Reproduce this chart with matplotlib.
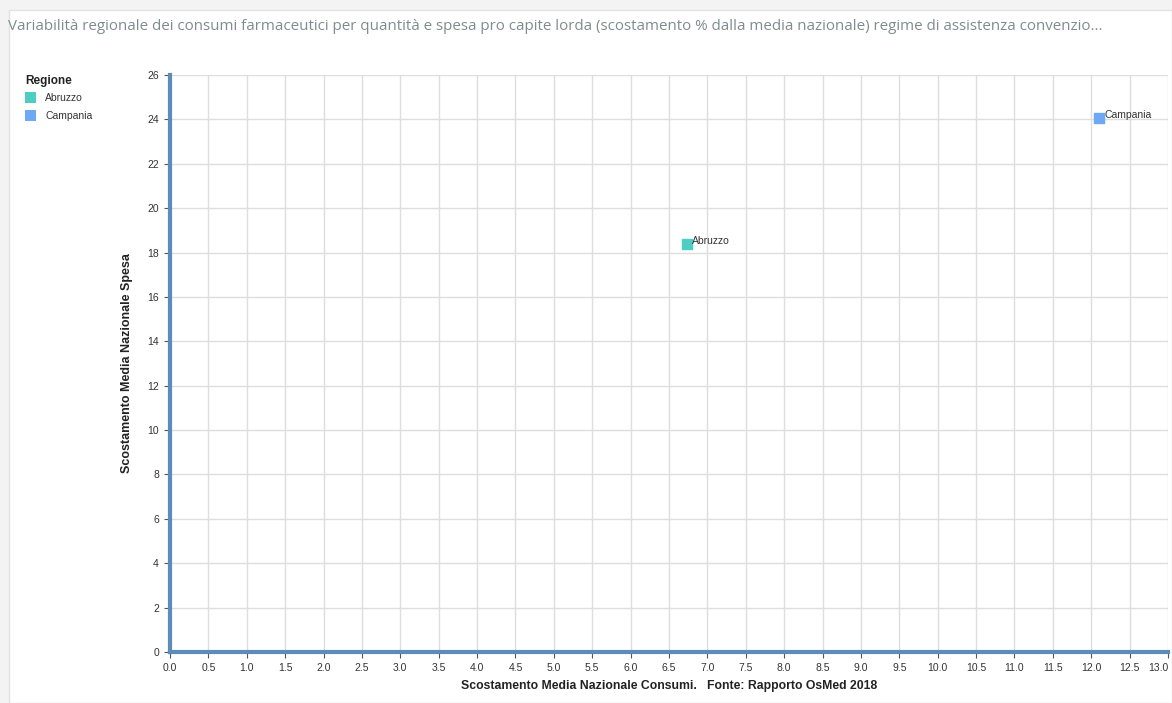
import matplotlib
matplotlib.use("Agg")
import matplotlib.pyplot as plt
from matplotlib.patches import Rectangle
import numpy as np

regioni = ["Abruzzo", "Campania"]
consumi = [6.73, 12.1]
spesa = [18.4, 24.05]
colori = ["#4ecdc4", "#6fa8f5"]

plt.rcParams['font.family'] = ['Liberation Sans', 'DejaVu Sans']

fig = plt.figure(figsize=(11.72, 7.03), dpi=100)
fig.patch.set_facecolor("#f3f3f3")

# white card behind everything
card = Rectangle((9 / 1172, 0), 1 - 9 / 1172, 1 - 10 / 703, transform=fig.transFigure,
                 facecolor="white", edgecolor="#e2e2e2", linewidth=1, zorder=-10)
fig.patches.append(card)

fig.text(8 / 1172, 1 - 27 / 703,
         "Variabilità regionale dei consumi farmaceutici per quantità e spesa pro capite lorda "
         "(scostamento % dalla media nazionale) regime di assistenza convenzio...",
         family=['Open Sans', 'DejaVu Sans'], fontsize=10.9, color="#7f8c8d", va="center")

ax = fig.add_axes([170 / 1172, 51 / 703, 998 / 1172, 577 / 703])
ax.set_facecolor("white")
ax.set_xlim(0, 13)
ax.set_ylim(0, 26)
xt = np.arange(0, 13.01, 0.5)
ax.set_xticks(xt)
ax.set_xticklabels(["%.1f" % v for v in xt])
ax.get_xticklabels()[-1].set_ha("right")
ax.set_yticks(np.arange(0, 27, 2))
ax.grid(True, color="#dedede", linewidth=1)
ax.set_axisbelow(True)
for s in ["top", "right"]:
    ax.spines[s].set_visible(False)
for s in ["left", "bottom"]:
    ax.spines[s].set_color("#5b8db8")
    ax.spines[s].set_linewidth(3)
ax.tick_params(labelsize=7.5, colors="#333333", length=4, width=0.8, pad=4)
ax.tick_params(axis="both", color="#555555")

for r, x, y, c in zip(regioni, consumi, spesa, colori):
    ax.scatter(x, y, marker="s", s=60, color=c, zorder=3, clip_on=False)
    ax.annotate(r, (x, y), xytext=(4, 2), textcoords="offset points",
                fontsize=7.5, color="#333333", va="center", ha="left")

ax.set_xlabel("Scostamento Media Nazionale Consumi.   Fonte: Rapporto OsMed 2018",
              fontsize=8.8, fontweight="bold", color="#222222", labelpad=5)
ax.set_ylabel("Scostamento Media Nazionale Spesa", fontsize=9, fontweight="bold",
              color="#222222", labelpad=10)

# legend
fig.text(25 / 1172, 1 - 81 / 703, "Regione", fontsize=8.5, fontweight="bold",
         color="#222222", va="center")
for i, (r, c) in enumerate(zip(regioni, colori)):
    yy = 98 + i * 18
    fig.patches.append(Rectangle((25 / 1172, 1 - (yy + 5) / 703), 11 / 1172, 11 / 703,
                                 transform=fig.transFigure, facecolor=c, edgecolor="none"))
    fig.text(45 / 1172, 1 - yy / 703, r, fontsize=7.5, color="#333333", va="center")

fig.savefig("out.png", dpi=100)
